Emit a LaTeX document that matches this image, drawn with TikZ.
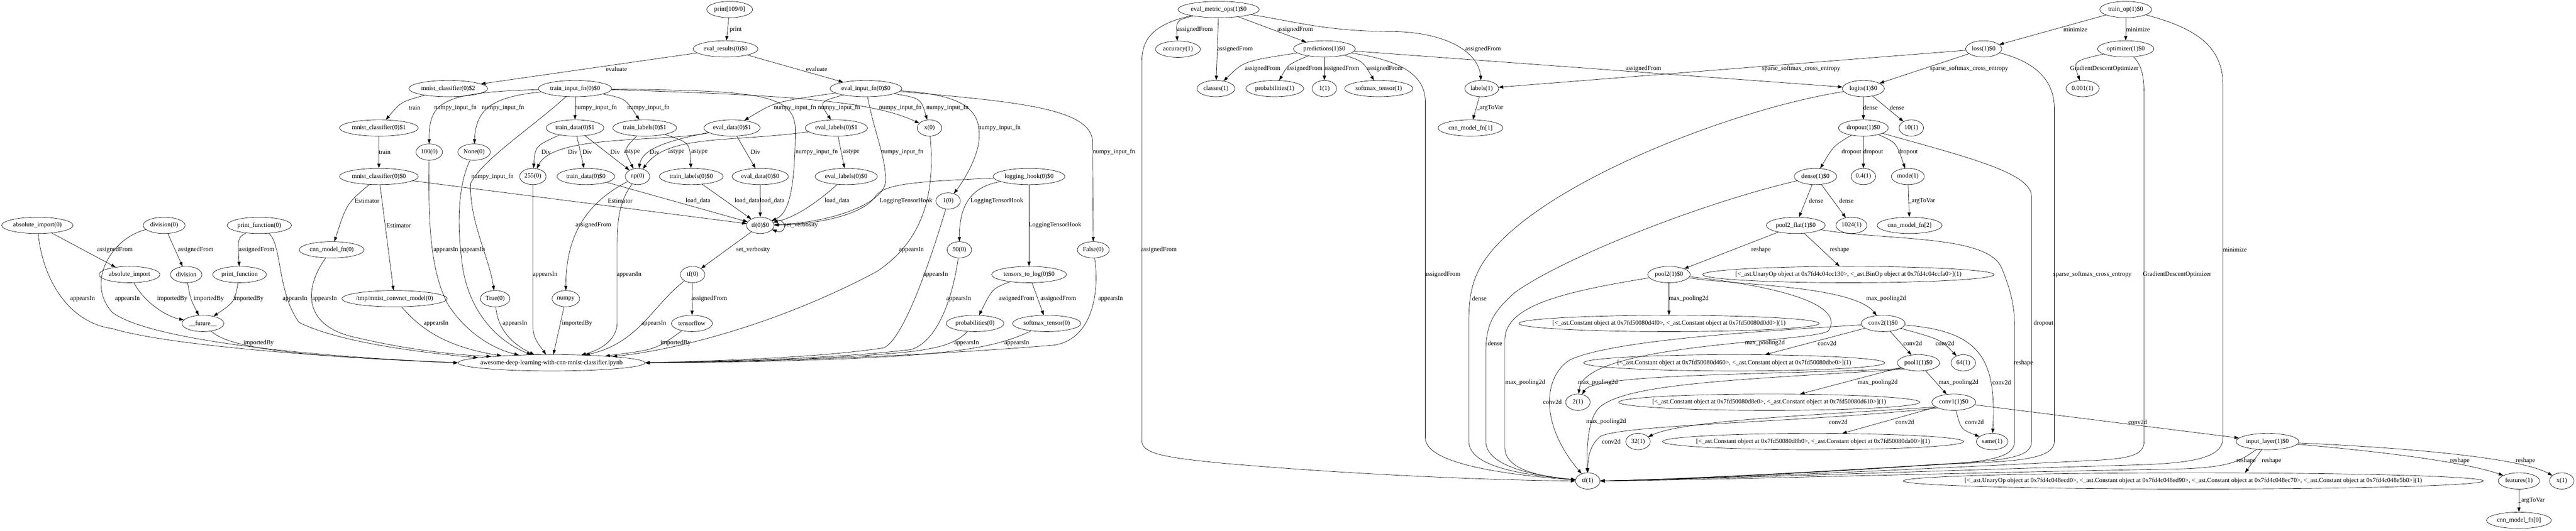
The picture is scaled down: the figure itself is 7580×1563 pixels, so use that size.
\documentclass[tikz,border=0pt]{standalone}
\usepackage{fontspec}
\setmainfont{Liberation Serif}
\usetikzlibrary{shapes.geometric,arrows.meta}

\begin{document}
\begin{tikzpicture}[x=0.75pt,y=-0.75pt,
    >={Triangle[length=10pt,width=7pt]},
    ent/.style={draw,ellipse,line width=0.75pt,minimum width=54pt,minimum height=36pt,
      inner xsep=2pt,inner ysep=1pt,font=\fontsize{14pt}{16pt}\selectfont},
    link/.style={->,line width=0.75pt},
    lbl/.style={inner sep=0pt,font=\fontsize{14pt}{16pt}\selectfont}]
  \useasboundingbox (0,0) rectangle (7580,1563);

  % notebook, imports and classifier
  \node[ent] (absimp0) at (110,664) {absolute\_import(0)};
  \node[ent] (div0) at (483,664) {division(0)};
  \node[ent] (prfn0) at (763,664) {print\_function(0)};
  \node[ent] (absimp) at (381,809) {absolute\_import};
  \node[ent] (div) at (548,809) {division};
  \node[ent] (prfn) at (705,809) {print\_function};
  \node[ent] (future) at (597,953) {\_\_future\_\_};
  \node[ent] (cnnfn0) at (976,736) {cnn\_model\_fn(0)};
  \node[ent,inner xsep=-3pt] (tmpdir) at (1161,880) {/tmp/mnist\_convnet\_model(0)};
  \node[ent] (clf2) at (1319,261) {mnist\_classifier(0)\$2};
  \node[ent] (clf1) at (1115,377) {mnist\_classifier(0)\$1};
  \node[ent] (clf0) at (1115,520) {mnist\_classifier(0)\$0};
  \node[ent] (hundred) at (1263,448) {100(0)};
  \node[ent] (none) at (1395,448) {None(0)};
  \node[ent] (true) at (1457,880) {True(0)};
  \node[ent] (printn) at (2147,28) {print[109/0]};
  \node[ent] (evres) at (2135,144) {eval\_results(0)\$0};
  \node[ent] (trinp) at (1692,261) {train\_input\_fn(0)\$0};
  \node[ent] (evinp) at (2548,261) {eval\_input\_fn(0)\$0};
  \node[ent] (trdata1) at (1692,377) {train\_data(0)\$1};
  \node[ent] (trlab1) at (1897,377) {train\_labels(0)\$1};
  \node[ent] (evdata1) at (2154,377) {eval\_data(0)\$1};
  \node[ent] (evlab1) at (2461,377) {eval\_labels(0)\$1};
  \node[ent] (c255) at (1568,520) {255(0)};
  \node[ent] (trdata0) at (1724,520) {train\_data(0)\$0};
  \node[ent] (np0) at (1876,520) {np(0)};
  \node[ent] (trlab0) at (2034,520) {train\_labels(0)\$0};
  \node[ent] (evdata0) at (2237,520) {eval\_data(0)\$0};
  \node[ent] (evlab0) at (2490,520) {eval\_labels(0)\$0};
  \node[ent] (tfz) at (2237,664) {tf(0)\$0};
  \node[ent] (tf0) at (2038,809) {tf(0)};
  \node[ent] (numpy) at (1665,880) {numpy};
  \node[ent] (tflow) at (2036,953) {tensorflow};
  \node[ent,inner xsep=-11pt] (nb) at (1623,1069) {awesome-deep-learning-with-cnn-mnist-classifier.ipynb};
  \node[ent] (x0) at (2735,377) {x(0)};
  \node[ent] (one0) at (2790,592) {1(0)};
  \node[ent] (loghook) at (3028,520) {logging\_hook(0)\$0};
  \node[ent] (fifty) at (2823,736) {50(0)};
  \node[ent] (tensl) at (3028,809) {tensors\_to\_log(0)\$0};
  \node[ent] (prob0) at (2869,953) {probabilities(0)};
  \node[ent] (soft0) at (3080,953) {softmax\_tensor(0)};
  \node[ent] (false0) at (3217,736) {False(0)};

  % model function
  \node[ent] (evmet) at (3586,28) {eval\_metric\_ops(1)\$0};
  \node[ent] (acc1) at (3466,145) {accuracy(1)};
  \node[ent] (cls1) at (3578,261) {classes(1)};
  \node[ent] (prob1) at (3751,261) {probabilities(1)};
  \node[ent] (pred) at (3897,144) {predictions(1)\$0};
  \node[ent] (one1) at (3897,261) {1(1)};
  \node[ent] (soft1) at (4057,261) {softmax\_tensor(1)};
  \node[ent] (lab1) at (4360,261) {labels(1)};
  \node[ent] (cnnfn1) at (4327,377) {cnn\_model\_fn[1]};
  \node[ent] (trop) at (6255,28) {train\_op(1)\$0};
  \node[ent] (loss) at (5837,144) {loss(1)\$0};
  \node[ent] (opt) at (6255,144) {optimizer(1)\$0};
  \node[ent] (lr) at (6128,261) {0.001(1)};
  \node[ent] (logits) at (5483,261) {logits(1)\$0};
  \node[ent] (drop) at (5483,377) {dropout(1)\$0};
  \node[ent] (ten1) at (5624,377) {10(1)};
  \node[ent] (dense) at (5342,520) {dense(1)\$0};
  \node[ent] (rate) at (5483,520) {0.4(1)};
  \node[ent] (mode) at (5614,520) {mode(1)};
  \node[ent] (cnnfn2) at (5619,664) {cnn\_model\_fn[2]};
  \node[ent] (flat) at (5284,664) {pool2\_flat(1)\$0};
  \node[ent] (units) at (5448,664) {1024(1)};
  \node[ent,inner xsep=-22pt] (shapeb) at (5439,809) {[<\_ast.UnaryOp object at 0x7fd4c04cc130>, <\_ast.BinOp object at 0x7fd4c04ccfa0>](1)};
  \node[ent] (pool2) at (4911,809) {pool2(1)\$0};
  \node[ent,inner xsep=-23pt] (lstb) at (4911,953) {[<\_ast.Constant object at 0x7fd50080d4f0>, <\_ast.Constant object at 0x7fd50080d0d0>](1)};
  \node[ent] (conv2) at (5541,953) {conv2(1)\$0};
  \node[ent,inner xsep=-23pt] (lstc) at (5103,1069) {[<\_ast.Constant object at 0x7fd50080d460>, <\_ast.Constant object at 0x7fd50080dbe0>](1)};
  \node[ent] (pool1) at (5645,1069) {pool1(1)\$0};
  \node[ent] (sixtyfour) at (5777,1069) {64(1)};
  \node[ent] (two1) at (4643,1185) {2(1)};
  \node[ent,inner xsep=-23pt] (lstd) at (5206,1185) {[<\_ast.Constant object at 0x7fd50080d8e0>, <\_ast.Constant object at 0x7fd50080d610>](1)};
  \node[ent] (conv1) at (5749,1185) {conv1(1)\$0};
  \node[ent] (thirtytwo) at (4820,1301) {32(1)};
  \node[ent,inner xsep=-23pt] (lste) at (5335,1301) {[<\_ast.Constant object at 0x7fd50080d8b0>, <\_ast.Constant object at 0x7fd50080da00>](1)};
  \node[ent] (same) at (5862,1301) {same(1)};
  \node[ent] (inlayer) at (6672,1301) {input\_layer(1)\$0};
  \node[ent] (tf1) at (4672,1417) {tf(1)};
  \node[ent,inner xsep=-52pt] (shapea) at (6454,1417) {[<\_ast.UnaryOp object at 0x7fd4c048ecd0>, <\_ast.Constant object at 0x7fd4c048ed90>, <\_ast.Constant object at 0x7fd4c048ec70>, <\_ast.Constant object at 0x7fd4c048e5b0>](1)};
  \node[ent] (feat) at (7412,1417) {features(1)};
  \node[ent] (x1) at (7538,1417) {x(1)};
  \node[ent] (cnnfn0b) at (7412,1533) {cnn\_model\_fn[0]};

  % imports
  \draw[link] (absimp0) -- (absimp) node[lbl] at (338,736) {assignedFrom};
  \draw[link] (absimp0) .. controls (125,820) and (200,950) .. (330,968) .. controls (500,1020) and (1000,1055) .. (nb.west) node[lbl] at (243,880) {appearsIn};
  \draw[link] (div0) -- (div) node[lbl] at (576,736) {assignedFrom};
  \draw[link] (div0) .. controls (330,700) and (250,830) .. (330,920) .. controls (420,990) and (800,1045) .. (nb.west) node[lbl] at (375,880) {appearsIn};
  \draw[link] (prfn0) .. controls (700,700) .. (prfn) node[lbl] at (755,736) {assignedFrom};
  \draw[link] (prfn0) .. controls (830,720) and (815,860) .. (880,950) .. controls (1000,1010) and (1250,1040) .. (nb.176) node[lbl] at (868,880) {appearsIn};
  \draw[link] (absimp) .. controls (430,900) and (500,935) .. (future) node[lbl] at (507,880) {importedBy};
  \draw[link] (div) .. controls (560,880) .. (future) node[lbl] at (614,880) {importedBy};
  \draw[link] (prfn) .. controls (690,890) .. (future) node[lbl] at (731,880) {importedBy};
  \draw[link] (future) .. controls (680,1030) and (900,1050) .. (nb.west) node[lbl] at (761,1011) {importedBy};
  \draw[link] (cnnfn0) .. controls (900,840) and (880,960) .. (1050,995) .. controls (1200,1030) and (1330,1045) .. (nb.174) node[lbl] at (955,880) {appearsIn};
  \draw[link] (tmpdir) .. controls (1230,960) and (1300,1020) .. (nb.172) node[lbl] at (1283,953) {appearsIn};

  % classifier
  \draw[link] (clf2) .. controls (1180,300) .. (clf1) node[lbl] at (1220,318) {train};
  \draw[link] (clf1) -- (clf0) node[lbl] at (1132,448) {train};
  \draw[link] (clf0) .. controls (1020,600) .. (cnnfn0) node[lbl] at (1080,592) {Estimator};
  \draw[link] (clf0) -- (tmpdir) node[lbl] at (1173,664) {Estimator};
  \draw[link] (clf0) -- (tfz) node[lbl] at (1825,592) {Estimator};
  \draw[link] (printn) -- (evres) node[lbl] at (2165,87) {print};
  \draw[link] (evres) -- (clf2) node[lbl] at (1814,203) {evaluate};
  \draw[link] (evres) -- (evinp) node[lbl] at (2403,203) {evaluate};

  % input functions
  \draw[link] (trinp) .. controls (1300,272) and (1262,300) .. (hundred) node[lbl] at (1340,318) {numpy\_input\_fn};
  \draw[link] (trinp) .. controls (1450,285) and (1400,320) .. (none) node[lbl] at (1480,318) {numpy\_input\_fn};
  \draw[link] (trinp) -- (trdata1) node[lbl] at (1753,318) {numpy\_input\_fn};
  \draw[link] (trinp) .. controls (1840,290) .. (trlab1) node[lbl] at (1908,318) {numpy\_input\_fn};
  \draw[link] (trinp) .. controls (1560,380) and (1420,470) .. (1385,540) .. controls (1380,650) and (1440,760) .. (true) node[lbl] at (1449,520) {numpy\_input\_fn};
  \draw[link] (trinp) .. controls (2200,268) and (2340,270) .. (2340,380) .. controls (2340,560) and (2320,630) .. (tfz) node[lbl] at (2403,448) {numpy\_input\_fn};
  \draw[link] (trinp) .. controls (2300,280) and (2560,295) .. (x0) node[lbl] at (2649,318) {numpy\_input\_fn};
  \draw[link] (evinp) .. controls (2280,300) .. (evdata1) node[lbl] at (2339,318) {numpy\_input\_fn};
  \draw[link] (evinp) .. controls (2410,300) .. (evlab1) node[lbl] at (2469,318) {numpy\_input\_fn};
  \draw[link] (evinp) .. controls (2710,290) .. (x0) node[lbl] at (2788,318) {numpy\_input\_fn};
  \draw[link] (evinp) .. controls (2850,280) and (2890,330) .. (2880,420) .. controls (2870,480) and (2830,540) .. (one0) node[lbl] at (2941,377) {numpy\_input\_fn};
  \draw[link] (evinp) .. controls (3000,300) and (3215,320) .. (3215,420) -- (false0) node[lbl] at (3278,448) {numpy\_input\_fn};
  \draw[link] (evinp) .. controls (2575,400) and (2610,470) .. (2605,540) .. controls (2595,600) and (2450,655) .. (tfz) node[lbl] at (2655,448) {numpy\_input\_fn};

  % data
  \draw[link] (trdata1) .. controls (1575,430) .. (c255) node[lbl] at (1607,448) {Div};
  \draw[link] (trdata1) -- (trdata0) node[lbl] at (1728,448) {Div};
  \draw[link] (trdata1) -- (np0) node[lbl] at (1810,448) {Div};
  \draw[link] (trlab1) .. controls (1835,440) .. (np0) node[lbl] at (1859,448) {astype};
  \draw[link] (trlab1) .. controls (2030,420) .. (trlab0) node[lbl] at (2058,448) {astype};
  \draw[link] (evdata1) .. controls (1950,420) and (1630,395) .. (c255) node[lbl] at (1685,448) {Div};
  \draw[link] (evdata1) .. controls (1960,415) and (1890,440) .. (np0) node[lbl] at (1926,448) {Div};
  \draw[link] (evdata1) -- (evdata0) node[lbl] at (2223,448) {Div};
  \draw[link] (evlab1) .. controls (2150,420) and (1965,395) .. (np0) node[lbl] at (1990,448) {astype};
  \draw[link] (evlab1) -- (evlab0) node[lbl] at (2505,448) {astype};
  \draw[link] (trdata0) -- (tfz) node[lbl] at (2054,592) {load\_data};
  \draw[link] (trlab0) -- (tfz) node[lbl] at (2198,592) {load\_data};
  \draw[link] (evdata0) -- (tfz) node[lbl] at (2272,592) {load\_data};
  \draw[link] (evlab0) .. controls (2400,600) and (2340,640) .. (tfz) node[lbl] at (2463,592) {load\_data};
  \draw[link] (tfz.20) .. controls (2318,635) and (2318,693) .. (tfz.-20) node[lbl] at (2357,664) {set\_verbosity};
  \draw[link] (tfz) -- (tf0) node[lbl] at (2216,736) {set\_verbosity};
  \draw[link] (tf0) -- (tflow) node[lbl] at (2087,880) {assignedFrom};
  \draw[link] (tf0) .. controls (1920,900) and (1880,1010) .. (nb) node[lbl] at (1924,953) {appearsIn};
  \draw[link] (tflow) .. controls (1930,1030) .. (nb) node[lbl] at (1988,1011) {importedBy};
  \draw[link] (np0) .. controls (1720,600) and (1665,700) .. (numpy) node[lbl] at (1746,664) {assignedFrom};
  \draw[link] (np0) .. controls (1825,590) and (1816,640) .. (1816,720) -- (1816,950) .. controls (1816,1000) and (1770,1030) .. (nb) node[lbl] at (1851,809) {appearsIn};
  \draw[link] (c255) -- (1568,960) .. controls (1568,1000) and (1590,1020) .. (nb) node[lbl] at (1604,809) {appearsIn};
  \draw[link] (none) .. controls (1340,560) and (1350,700) .. (1358,760) .. controls (1370,900) and (1450,1000) .. (nb) node[lbl] at (1391,736) {appearsIn};
  \draw[link] (hundred) .. controls (1260,650) and (1265,800) .. (1320,900) .. controls (1380,990) and (1460,1030) .. (nb) node[lbl] at (1312,736) {appearsIn};
  \draw[link] (true) .. controls (1465,980) and (1520,1020) .. (nb) node[lbl] at (1515,953) {appearsIn};
  \draw[link] (numpy) -- (nb) node[lbl] at (1698,953) {importedBy};

  % hooks and constants
  \draw[link] (x0) .. controls (2750,550) and (2730,700) .. (2580,800) .. controls (2300,950) and (2000,1030) .. (nb) node[lbl] at (2682,736) {appearsIn};
  \draw[link] (one0) .. controls (2740,760) and (2660,1000) .. (2600,1025) .. controls (2400,1055) and (2100,1063) .. (nb.east) node[lbl] at (2753,809) {appearsIn};
  \draw[link] (fifty) .. controls (2800,900) and (2750,1010) .. (2680,1030) .. controls (2450,1058) and (2100,1064) .. (nb.east) node[lbl] at (2821,880) {appearsIn};
  \draw[link] (prob0) .. controls (2810,1015) and (2760,1025) .. (2680,1036) .. controls (2450,1060) and (2100,1066) .. (nb.east) node[lbl] at (2844,1011) {appearsIn};
  \draw[link] (soft0) .. controls (2960,1010) and (2880,1030) .. (2700,1045) .. controls (2450,1064) and (2100,1068) .. (nb.east) node[lbl] at (2992,1011) {appearsIn};
  \draw[link] (false0) .. controls (3235,850) and (3220,1000) .. (3100,1017) .. controls (2700,1050) and (2200,1068) .. (nb.east) node[lbl] at (3268,880) {appearsIn};
  \draw[link] (loghook) .. controls (2860,550) and (2823,600) .. (fifty) node[lbl] at (2933,592) {LoggingTensorHook};
  \draw[link] (loghook) -- (tensl) node[lbl] at (3104,664) {LoggingTensorHook};
  \draw[link] (loghook) .. controls (2700,535) and (2600,540) .. (2575,580) .. controls (2540,630) and (2420,660) .. (tfz) node[lbl] at (2666,592) {LoggingTensorHook};
  \draw[link] (tensl) .. controls (2920,850) .. (prob0) node[lbl] at (2991,880) {assignedFrom};
  \draw[link] (tensl) -- (soft0) node[lbl] at (3114,880) {assignedFrom};

  % metrics and predictions
  \draw[link] (evmet) .. controls (3460,60) .. (acc1) node[lbl] at (3516,87) {assignedFrom};
  \draw[link] (evmet) -- (cls1) node[lbl] at (3634,145) {assignedFrom};
  \draw[link] (evmet) -- (pred) node[lbl] at (3811,87) {assignedFrom};
  \draw[link] (evmet) .. controls (3820,65) and (3900,92) .. (4100,93) .. controls (4250,95) and (4350,150) .. (lab1) node[lbl] at (4364,145) {assignedFrom};
  \draw[link] (evmet) .. controls (3400,70) and (3360,110) .. (3360,180) -- (3360,1300) .. controls (3360,1340) and (3450,1350) .. (3600,1365) .. controls (4000,1400) and (4400,1415) .. (tf1.west) node[lbl] at (3410,736) {assignedFrom};
  \draw[link] (pred) .. controls (3660,180) .. (cls1) node[lbl] at (3715,203) {assignedFrom};
  \draw[link] (pred) .. controls (3790,190) .. (prob1) node[lbl] at (3839,203) {assignedFrom};
  \draw[link] (pred) -- (one1) node[lbl] at (3947,203) {assignedFrom};
  \draw[link] (pred) .. controls (4010,180) .. (soft1) node[lbl] at (4075,203) {assignedFrom};
  \draw[link] (pred) .. controls (4100,175) and (4194,210) .. (4194,300) -- (4194,1290) .. controls (4194,1370) and (4450,1400) .. (tf1) node[lbl] at (4245,809) {assignedFrom};
  \draw[link] (pred) -- (logits) node[lbl] at (4836,203) {assignedFrom};
  \draw[link] (lab1) -- (cnnfn1) node[lbl] at (4384,318) {\_argToVar};

  % loss and optimizer
  \draw[link] (loss) -- (lab1) node[lbl] at (5300,203) {sparse\_softmax\_cross\_entropy};
  \draw[link] (loss) -- (logits) node[lbl] at (5794,203) {sparse\_softmax\_cross\_entropy};
  \draw[link] (loss) .. controls (5980,180) and (6045,230) .. (6045,320) -- (6045,1300) .. controls (6045,1350) and (5950,1360) .. (5750,1366) .. controls (5300,1393) and (4950,1412) .. (tf1.east) node[lbl] at (6157,809) {sparse\_softmax\_cross\_entropy};
  \draw[link] (trop) -- (loss) node[lbl] at (6107,87) {minimize};
  \draw[link] (trop) -- (opt) node[lbl] at (6291,87) {minimize};
  \draw[link] (trop) .. controls (6450,80) and (6541,130) .. (6541,250) -- (6541,1290) .. controls (6541,1350) and (6450,1365) .. (6280,1370) .. controls (5600,1390) and (5000,1412) .. (tf1.east) node[lbl] at (6576,736) {minimize};
  \draw[link] (opt) .. controls (6100,180) .. (lr) node[lbl] at (6192,203) {GradientDescentOptimizer};
  \draw[link] (opt) .. controls (6300,190) and (6309,220) .. (6309,280) -- (6309,1300) .. controls (6309,1340) and (6270,1352) .. (6150,1357) .. controls (5600,1385) and (5000,1412) .. (tf1.east) node[lbl] at (6406,809) {GradientDescentOptimizer};

  % layers
  \draw[link] (logits) -- (drop) node[lbl] at (5504,318) {dense};
  \draw[link] (logits) -- (ten1) node[lbl] at (5582,318) {dense};
  \draw[link] (logits) .. controls (5100,320) and (4500,550) .. (4360,780) .. controls (4330,830) and (4322,880) .. (4322,950) -- (4322,1300) .. controls (4322,1380) and (4500,1400) .. (tf1) node[lbl] at (4353,880) {dense};
  \draw[link] (drop) .. controls (5395,430) .. (dense) node[lbl] at (5448,448) {dropout};
  \draw[link] (drop) -- (rate) node[lbl] at (5512,448) {dropout};
  \draw[link] (drop) .. controls (5580,420) .. (mode) node[lbl] at (5614,448) {dropout};
  \draw[link] (drop) .. controls (5800,466) and (5978,510) .. (5978,580) -- (5978,1300) .. controls (5978,1345) and (5920,1357) .. (5700,1368) .. controls (5300,1394) and (4950,1412) .. (tf1.east) node[lbl] at (6013,953) {dropout};
  \draw[link] (mode) -- (cnnfn2) node[lbl] at (5655,592) {\_argToVar};
  \draw[link] (dense) -- (flat) node[lbl] at (5344,592) {dense};
  \draw[link] (dense) -- (units) node[lbl] at (5433,592) {dense};
  \draw[link] (dense) .. controls (5000,600) and (4600,760) .. (4460,860) .. controls (4390,920) and (4372,960) .. (4372,1040) -- (4372,1300) .. controls (4372,1370) and (4500,1400) .. (tf1) node[lbl] at (4399,1011) {dense};
  \draw[link] (flat) -- (shapeb) node[lbl] at (5413,736) {reshape};
  \draw[link] (flat) -- (pool2) node[lbl] at (5182,736) {reshape};
  \draw[link] (flat) .. controls (5550,710) and (5850,690) .. (5890,790) .. controls (5915,850) and (5928,900) .. (5928,960) -- (5928,1300) .. controls (5928,1350) and (5850,1362) .. (5650,1372) .. controls (5300,1396) and (4950,1412) .. (tf1.east) node[lbl] at (5954,1069) {reshape};
  \draw[link] (pool2) -- (lstb) node[lbl] at (4969,880) {max\_pooling2d};
  \draw[link] (pool2) .. controls (5100,840) and (5450,840) .. (conv2) node[lbl] at (5550,880) {max\_pooling2d};
  \draw[link] (pool2) .. controls (5250,845) and (5430,900) .. (5380,975) .. controls (5330,1010) and (4660,1010) .. (two1) node[lbl] at (5193,1011) {max\_pooling2d};
  \draw[link] (pool2) .. controls (4600,860) and (4430,900) .. (4428,1000) -- (4428,1320) .. controls (4430,1390) and (4550,1405) .. (tf1) node[lbl] at (4488,1127) {max\_pooling2d};
  \draw[link] (conv2) -- (lstc) node[lbl] at (5376,1011) {conv2d};
  \draw[link] (conv2) -- (pool1) node[lbl] at (5628,1011) {conv2d};
  \draw[link] (conv2) .. controls (5710,1000) .. (sixtyfour) node[lbl] at (5723,1011) {conv2d};
  \draw[link] (conv2) .. controls (5830,975) and (5875,1060) .. (same) node[lbl] at (5890,1127) {conv2d};
  \draw[link] (conv2) .. controls (5200,975) and (4750,1000) .. (4620,1060) .. controls (4540,1110) and (4530,1250) .. (tf1) node[lbl] at (4568,1185) {conv2d};
  \draw[link] (pool1) -- (conv1) node[lbl] at (5763,1127) {max\_pooling2d};
  \draw[link] (pool1) -- (lstd) node[lbl] at (5525,1127) {max\_pooling2d};
  \draw[link] (pool1.200) .. controls (5200,1105) and (4690,1100) .. (two1) node[lbl] at (4702,1127) {max\_pooling2d};
  \draw[link] (pool1.205) .. controls (5100,1120) and (4740,1130) .. (4695,1215) .. controls (4672,1250) and (4668,1330) .. (tf1) node[lbl] at (4726,1243) {max\_pooling2d};
  \draw[link] (conv1) -- (inlayer) node[lbl] at (6290,1243) {conv2d};
  \draw[link] (conv1) .. controls (5770,1265) .. (same) node[lbl] at (5810,1243) {conv2d};
  \draw[link] (conv1) -- (lste) node[lbl] at (5605,1243) {conv2d};
  \draw[link] (conv1.195) .. controls (5300,1225) and (4950,1240) .. (thirtytwo) node[lbl] at (5409,1243) {conv2d};
  \draw[link] (conv1.200) .. controls (5300,1245) and (4790,1250) .. (4710,1285) .. controls (4678,1310) and (4672,1350) .. (tf1) node[lbl] at (4741,1301) {conv2d};
  \draw[link] (inlayer) -- (shapea.9) node[lbl] at (6684,1358) {reshape};
  \draw[link] (inlayer) .. controls (6590,1360) and (6560,1378) .. (6400,1382) .. controls (5800,1392) and (5000,1415) .. (tf1.east) node[lbl] at (6609,1358) {reshape};
  \draw[link] (inlayer) .. controls (7000,1330) and (7250,1360) .. (feat) node[lbl] at (7238,1358) {reshape};
  \draw[link] (inlayer) .. controls (7100,1320) and (7420,1350) .. (x1) node[lbl] at (7431,1358) {reshape};
  \draw[link] (feat) -- (cnnfn0b) node[lbl] at (7449,1474) {\_argToVar};
\end{tikzpicture}
\end{document}
